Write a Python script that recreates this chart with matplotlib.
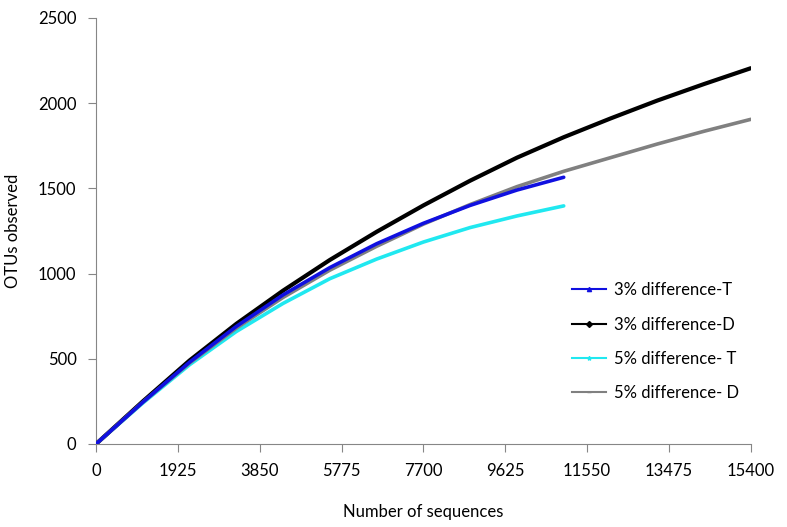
import numpy as np
import matplotlib.pyplot as plt
from matplotlib.lines import Line2D

plt.rcParams['font.family'] = ['Lato', 'DejaVu Sans']

# number of sequences sampled
x_long = [0, 1100, 2200, 3300, 4400, 5500, 6600, 7700, 8800, 9900, 11000,
          12100, 13200, 14300, 15400]
x_short = x_long[:11]

# OTUs observed
otu_3_t = [0, 245, 480, 690, 875, 1035, 1175, 1295, 1400, 1490, 1565]
otu_3_d = [0, 250, 490, 705, 900, 1080, 1245, 1400, 1545, 1680, 1800,
           1910, 2015, 2112, 2205]
otu_5_t = [0, 240, 465, 660, 825, 970, 1085, 1185, 1270, 1338, 1397]
otu_5_d = [0, 245, 475, 680, 860, 1020, 1160, 1290, 1405, 1510, 1600,
           1680, 1760, 1835, 1905]

labels = ['3% difference-T', '3% difference-D', '5% difference- T',
          '5% difference- D']
colors = ['#1010e0', 'black', '#20e8f0', '#808080']
markers = ['^', 'D', '*', '_']

xticks = np.arange(0, 15401, 1925)
yticks = np.arange(0, 2501, 500)

fig = plt.figure(figsize=(7.87, 5.27), dpi=100)
ax = fig.add_axes([0.122, 0.1575, 0.832, 0.8085])

ax.plot(x_long, otu_3_d, color=colors[1], lw=3.0, zorder=3,
        solid_capstyle='round', solid_joinstyle='round')
ax.plot(x_long, otu_5_d, color=colors[3], lw=2.6, zorder=4,
        solid_capstyle='round', solid_joinstyle='round')
ax.plot(x_short, otu_3_t, color=colors[0], lw=2.6, zorder=5,
        solid_capstyle='round', solid_joinstyle='round')
ax.plot(x_short, otu_5_t, color=colors[2], lw=2.6, zorder=2,
        solid_capstyle='round', solid_joinstyle='round')

ax.set_xlim(0, 15400)
ax.set_ylim(0, 2500)
ax.set_xticks(xticks)
ax.set_yticks(yticks)

for s in ['top', 'right']:
    ax.spines[s].set_visible(False)
for s in ['left', 'bottom']:
    ax.spines[s].set_color('#868686')
ax.tick_params(direction='out', length=6, color='#868686', labelsize=12,
               pad=8)

ax.set_xlabel('Number of sequences', fontsize=12, labelpad=18)
ax.set_ylabel('OTUs observed', fontsize=12, labelpad=12)

handles = [Line2D([], [], color=c, lw=1.5, marker=m, ms=3)
           for c, m in zip(colors, markers)]
ax.legend(handles, labels, frameon=False, loc='lower right',
          bbox_to_anchor=(1.005, 0.065), fontsize=12, labelspacing=1.1,
          handlelength=2.0, handletextpad=0.5)

fig.savefig('out.png', dpi=100)
